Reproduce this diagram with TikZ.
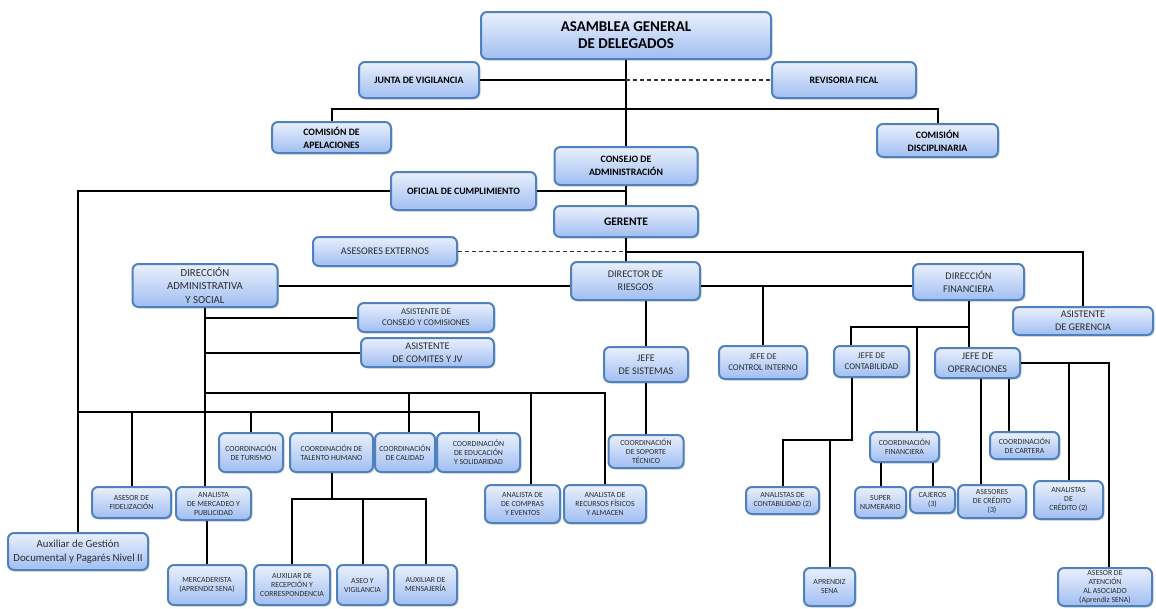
\documentclass[tikz,border=0pt]{standalone}
\usepackage{fontspec}
\setmainfont{Carlito}
\usetikzlibrary{shadows}
\definecolor{boxline}{RGB}{79,129,189}
\definecolor{boxtop}{RGB}{234,240,252}
\definecolor{boxbot}{RGB}{160,190,242}
\definecolor{txtgray}{RGB}{45,45,45}
\tikzset{
  puesto/.style={draw=boxline, line width=2pt, rounded corners=6pt, top color=boxtop, bottom color=boxbot,
    align=center, inner sep=0pt, text=txtgray,
    drop shadow={opacity=0.3, shadow xshift=1.5pt, shadow yshift=-1.5pt}},
  organo/.style={puesto, text=black, font=\fontsize{9.8}{13}\selectfont\bfseries},
  medio/.style={puesto, font=\fontsize{10.2}{13}\selectfont},
  chico/.style={puesto, font=\fontsize{8.8}{11}\selectfont},
  mini/.style={puesto, font=\fontsize{7.8}{9}\selectfont},
  tam/.style 2 args={minimum width=#1pt, minimum height=#2pt},
  enlace/.style={line width=2pt, black},
  punteado/.style={line width=1.1pt, dash pattern=on 4pt off 3pt, black!80},
}
\begin{document}
\begin{tikzpicture}[x=1pt, y=-1pt]
\useasboundingbox (0,0) rectangle (1156,608);

% Organos de control
\node[organo, tam={290}{47}, font=\fontsize{15}{17}\selectfont\bfseries] (asamblea) at (626,35.5) {ASAMBLEA GENERAL\\DE DELEGADOS};
\node[organo, tam={120}{36}] (junta) at (419,80) {JUNTA DE VIGILANCIA};
\node[organo, tam={144}{36}] (revisoria) at (844,80) {REVISORIA FICAL};
\node[organo, tam={119}{31}] (apelaciones) at (331.5,137.5) {COMISIÓN DE\\APELACIONES};
\node[organo, tam={121}{33}] (disciplinaria) at (937.5,140.5) {COMISIÓN\\DISCIPLINARIA};
\node[organo, tam={143}{38}] (consejo) at (626,166) {CONSEJO DE\\ADMINISTRACIÓN};
\node[organo, tam={145}{38}] (oficial) at (463.5,191) {OFICIAL DE CUMPLIMIENTO};
\node[organo, tam={144}{31}, font=\fontsize{11.5}{13}\selectfont\bfseries] (gerente) at (626,221.5) {GERENTE};

% Direcciones
\node[medio, tam={144}{29}] (asesores) at (385,251.5) {ASESORES EXTERNOS};
\node[medio, tam={145}{43}, font=\fontsize{10.8}{13.5}\selectfont] (diradmin) at (205,285.5) {DIRECCIÓN\\ADMINISTRATIVA\\Y SOCIAL};
\node[medio, tam={129}{38}] (riesgos) at (635.5,281) {DIRECTOR DE\\RIESGOS};
\node[medio, tam={111}{36}] (dirfin) at (968.5,282) {DIRECCIÓN\\FINANCIERA};
\node[medio, tam={140}{28}] (asistger) at (1083,321) {ASISTENTE\\DE GERENCIA};
\node[chico, tam={136}{29}] (asistcons) at (426,317.5) {ASISTENTE DE\\CONSEJO Y COMISIONES};
\node[medio, tam={133}{29}] (asistcom) at (427.5,352.5) {ASISTENTE\\DE COMITES Y JV};

% Jefaturas
\node[medio, tam={84}{35}] (jsist) at (646,364.5) {JEFE\\DE SISTEMAS};
\node[chico, tam={88}{33}] (jcontrol) at (763,362.5) {JEFE DE\\CONTROL INTERNO};
\node[chico, tam={75}{31}] (jcontab) at (871.5,361.5) {JEFE DE\\CONTABILIDAD};
\node[medio, tam={85}{30}] (jop) at (977.5,363) {JEFE DE\\OPERACIONES};

% Coordinaciones
\node[mini, tam={64}{39}] (turismo) at (251,452.5) {COORDINACIÓN\\DE TURISMO};
\node[mini, tam={83}{39}] (talento) at (331.5,452.5) {COORDINACIÓN DE\\TALENTO HUMANO};
\node[mini, tam={60}{39}] (calidad) at (405,452.5) {COORDINACIÓN\\DE CALIDAD};
\node[mini, tam={83}{39}] (educacion) at (478.5,452.5) {COORDINACIÓN\\DE EDUCACIÓN\\Y SOLIDARIDAD};
\node[mini, tam={75}{33}] (soporte) at (646,451.5) {COORDINACIÓN\\DE SOPORTE\\TÉCNICO};
\node[mini, tam={69}{30}] (coordfin) at (904.5,447) {COORDINACIÓN\\FINANCIERA};
\node[mini, tam={69}{27}] (cartera) at (1024.5,445.5) {COORDINACIÓN\\DE CARTERA};

% Analistas y asesores
\node[mini, tam={79}{31}] (fideliz) at (131.5,502.5) {ASESOR DE\\FIDELIZACIÓN};
\node[mini, tam={75}{33}] (mercadeo) at (213.5,503.5) {ANALISTA\\DE MERCADEO Y\\PUBLICIDAD};
\node[mini, tam={75}{38}] (compras) at (522.5,504) {ANALISTA DE\\DE COMPRAS\\Y EVENTOS};
\node[mini, tam={82}{38}] (recursos) at (605,504) {ANALISTA DE\\RECURSOS FÍSICOS\\Y ALMACEN};
\node[mini, tam={73}{27}] (analcontab) at (782.5,500.5) {ANALISTAS DE\\CONTABILIDAD (2)};
\node[mini, tam={51}{31}] (supernum) at (880.5,502.5) {SUPER\\NUMERARIO};
\node[mini, tam={45}{26}] (cajeros) at (932.5,500) {CAJEROS\\(3)};
\node[mini, tam={68}{33}] (asescred) at (992,501.5) {ASESORES\\DE CRÉDITO\\(3)};
\node[mini, tam={69}{38}] (analcred) at (1068.5,500) {ANALISTAS\\DE\\CRÉDITO (2)};

% Auxiliares
\node[medio, tam={140}{37}, font=\fontsize{10.8}{14}\selectfont] (auxgestion) at (78,551.5) {Auxiliar de Gestión\\Documental y Pagarés Nivel II};
\node[mini, tam={78}{40}] (mercaderista) at (207,585) {MERCADERISTA\\(APRENDIZ SENA)};
\node[mini, tam={76}{40}] (recepcion) at (292,585) {AUXILIAR DE\\RECEPCIÓN Y\\CORRESPONDENCIA};
\node[mini, tam={51}{40}] (aseo) at (362.5,585) {ASEO Y\\VIGILANCIA};
\node[mini, tam={63}{40}] (mensajeria) at (425.5,585) {AUXILIAR DE\\MENSAJERÍA};
\node[mini, tam={51}{38}] (aprendiz) at (829.5,587) {APRENDIZ\\SENA};
\node[mini, tam={94}{38}] (atencion) at (1105,587) {ASESOR DE\\ATENCIÓN\\AL ASOCIADO\\(Aprendiz SENA)};

% puntos de los buses
\coordinate (topbus) at (626,109);
\coordinate (ubus) at (205,393);
\coordinate (lbus) at (78,412);
\coordinate (tbus) at (331.5,499);
\coordinate (finbus) at (968.5,327);
\coordinate (cbus) at (852,440);
\coordinate (jcdrop) at ([xshift=18pt]jcontab.north west);
\coordinate (cfdrop) at ([xshift=48pt]coordfin.north west);
\coordinate (acdrop) at ([xshift=24pt]asescred.north west);
\coordinate (ctdrop) at ([xshift=20pt]cartera.north west);
\coordinate (atdrop) at ([xshift=52pt]atencion.north west);
\coordinate (cpdrop) at ([xshift=47pt]compras.north west);
\coordinate (cldrop) at ([xshift=35pt]calidad.north west);

% Lineas superiores
\draw[enlace] (asamblea) -- (consejo);
\draw[enlace] (junta.east) -- (junta.east -| asamblea.south);
\draw[punteado] (junta.east -| asamblea.south) -- (revisoria.west);
\draw[enlace] (apelaciones.north) |- (topbus) -| (disciplinaria.north);
\draw[enlace] (consejo) -- (gerente);
\draw[enlace] (oficial.east) -- (oficial.east -| consejo.south);
\draw[enlace] (oficial.west) -| (auxgestion.north);
\draw[enlace] (gerente.south) -- (gerente.south |- riesgos.north);
\draw[punteado] (asesores.east) -- (asesores.east -| gerente.south);
\draw[enlace] (asesores.east -| gerente.south) -| (asistger.north);
\draw[enlace] (diradmin.east) -- (diradmin.east -| riesgos.west);
\draw[enlace] (diradmin.east -| riesgos.east) -- (diradmin.east -| dirfin.west);
\draw[enlace] (jcontrol.north) -- (jcontrol.north |- diradmin.east);
\draw[enlace] (riesgos.south -| jsist.north) -- (jsist.north);
\draw[enlace] (jsist) -- (soporte);

% Financiera
\draw[enlace] (dirfin.south) -- (dirfin.south |- jop.north);
\draw[enlace] (jcdrop) |- (finbus);
\draw[enlace] (cfdrop) -- (cfdrop |- finbus);
\draw[enlace] (cbus |- jcontab.south) -- (cbus) -| (analcontab.north);
\draw[enlace] (aprendiz.north) -- (aprendiz.north |- cbus);
\draw[enlace] (supernum.north) -- (supernum.north |- coordfin.south);
\draw[enlace] (cajeros.north) -- (cajeros.north |- coordfin.south);
\draw[enlace] (acdrop) -- (acdrop |- jop.south);
\draw[enlace] (ctdrop) -- (ctdrop |- jop.south);
\draw[enlace] (jop.east) -| (atdrop);
\draw[enlace] (analcred.north) -- (analcred.north |- jop.east);

% Administrativa
\draw[enlace] (diradmin.south) -- (diradmin.south |- mercadeo.north);
\draw[enlace] (asistcons.west) -- (asistcons.west -| diradmin.south);
\draw[enlace] (asistcom.west) -- (asistcom.west -| diradmin.south);
\draw[enlace] (ubus) -| (recursos.north);
\draw[enlace] (cpdrop) -- (cpdrop |- ubus);
\draw[enlace] (cldrop) -- (cldrop |- ubus);
\draw[enlace] (lbus) -| (educacion.north);
\draw[enlace] (fideliz.north) -- (fideliz.north |- lbus);
\draw[enlace] (turismo.north) -- (turismo.north |- lbus);
\draw[enlace] (talento.north) -- (talento.north |- lbus);
\draw[enlace] (mercaderista.north) -- (mercaderista.north |- mercadeo.south);
\draw[enlace] (talento.south) -- (tbus);
\draw[enlace] (recepcion.north) |- (tbus) -| (mensajeria.north);
\draw[enlace] (aseo.north) -- (aseo.north |- tbus);
\end{tikzpicture}
\end{document}
